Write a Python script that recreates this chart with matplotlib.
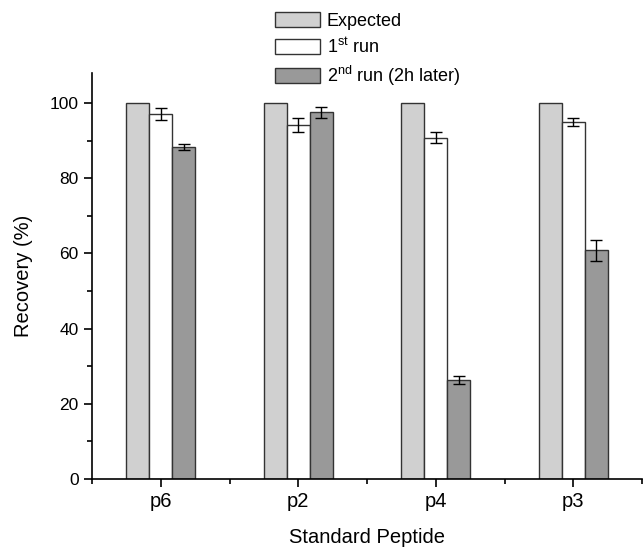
import numpy as np
import matplotlib
matplotlib.use("Agg")
import matplotlib.pyplot as plt
from matplotlib.ticker import MultipleLocator

plt.rcParams['font.family'] = ['Liberation Sans', 'DejaVu Sans']
plt.rcParams['mathtext.fontset'] = 'custom'
plt.rcParams['mathtext.rm'] = 'Liberation Sans'

# data
peptides = ['p6', 'p2', 'p4', 'p3']
expected = [100, 100, 100, 100]
run1 = [97.0, 94.2, 90.8, 95.0]
run1_err = [1.6, 1.9, 1.4, 1.0]
run2 = [88.3, 97.5, 26.3, 60.8]
run2_err = [0.9, 1.5, 1.0, 2.9]
labels = ['Expected', r'1$^{\mathrm{st}}$ run', r'2$^{\mathrm{nd}}$ run (2h later)']

fig = plt.figure(figsize=(6.43, 5.49), dpi=100)
# axes box: left spine at x=92 px, bottom at y=479, top at y=73
ax = fig.add_axes([92 / 643, 70 / 549, 550 / 643, 406 / 549])

x = np.arange(len(peptides))
w = 0.168
ec = '#333333'
err_kw = dict(ecolor='black', elinewidth=1, capsize=4, capthick=1)

b0 = ax.bar(x - w, expected, w, color='#d0d0d0', edgecolor=ec, linewidth=1)
b1 = ax.bar(x, run1, w, yerr=run1_err, color='white', edgecolor=ec, linewidth=1, error_kw=err_kw)
b2 = ax.bar(x + w, run2, w, yerr=run2_err, color='#999999', edgecolor=ec, linewidth=1, error_kw=err_kw)

ax.set_xlim(-0.5, 3.5)
ax.set_ylim(0, 108)
ax.set_xticks(x)
ax.set_xticklabels(peptides, fontsize=14.5)
ax.xaxis.set_minor_locator(MultipleLocator(0.5))
ax.yaxis.set_major_locator(MultipleLocator(20))
ax.yaxis.set_minor_locator(MultipleLocator(10))
ax.tick_params(axis='y', labelsize=12.5, pad=4)
ax.tick_params(axis='x', pad=4)
ax.tick_params(which='major', direction='out', length=5.5, width=1.2)
ax.tick_params(which='minor', direction='out', length=3.5, width=1.2)

for s in ['top', 'right']:
    ax.spines[s].set_visible(False)
for s in ['left', 'bottom']:
    ax.spines[s].set_linewidth(1.2)

ax.set_ylabel('Recovery (%)', fontsize=14.5, labelpad=12)
ax.set_xlabel('Standard Peptide', fontsize=14.5, labelpad=12)

fig.legend([b0, b1, b2], labels, loc='upper left', bbox_to_anchor=(268 / 643, 1 - 5 / 549),
           frameon=False, fontsize=13, handlelength=2.5, handleheight=0.9,
           handletextpad=0.35, labelspacing=0.4, borderaxespad=0.0)

fig.savefig('out.png', dpi=100)
